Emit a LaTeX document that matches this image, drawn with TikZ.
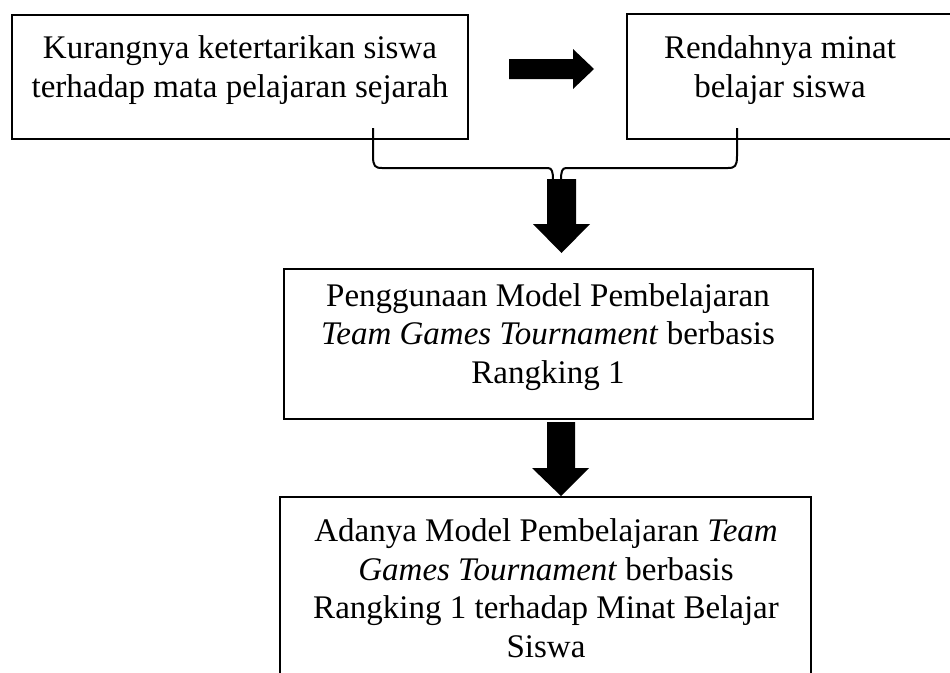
\documentclass[tikz,border=0pt]{standalone}
\usepackage{fontspec}
\setmainfont{Liberation Serif}
\begin{document}
\begin{tikzpicture}[x=1pt,y=-1pt,
  boxline/.style={draw=black,line width=2.2pt},
  txt/.style={align=center,inner sep=0pt,font=\fontsize{33}{38.5}\selectfont},
  fatarrow/.style={fill=black,draw=none}]
\useasboundingbox (0,0) rectangle (950,672);
\begin{scope}
\clip (0,0) rectangle (950,672);
% boxes
\draw[boxline] (12,15) rectangle (468,139);
\draw[boxline] (627,14) rectangle (990,139);
\draw[boxline] (284,269) rectangle (813,419);
\draw[boxline] (280,497) rectangle (811,720);
% texts
\node[txt] (t1) at (240,70) {Kurangnya ketertarikan siswa\\terhadap mata pelajaran sejarah};
\node[txt] (t2) at (780,70) {Rendahnya minat\\belajar siswa};
\node[txt] (t3) at (548,337) {Penggunaan Model Pembelajaran\\\textit{Team Games Tournament} berbasis\\Rangking 1};
\node[txt] (t4) at (546,588) {Adanya Model Pembelajaran \textit{Team}\\\textit{Games Tournament} berbasis\\Rangking 1 terhadap Minat Belajar\\Siswa};
% right arrow
\fill[fatarrow] (509,59) -- (573,59) -- (573,49) -- (594,69) -- (573,89) -- (573,79) -- (509,79) -- cycle;
% brace
\draw[line width=2pt] (373,128) -- (373,156) .. controls (373,166) and (375,168) .. (382,168) -- (548,168) .. controls (552,168) and (553,172) .. (553,180);
\draw[line width=2pt] (737,128) -- (737,156) .. controls (737,166) and (735,168) .. (728,168) -- (566,168) .. controls (562,168) and (561,172) .. (561,180);
% down arrows
\fill[fatarrow] (547,179) -- (576,179) -- (576,224) -- (590,224) -- (561.5,253) -- (533,224) -- (547,224) -- cycle;
\fill[fatarrow] (547,422) -- (575,422) -- (575,468) -- (589,468) -- (561,496) -- (532,468) -- (547,468) -- cycle;
\end{scope}
\end{tikzpicture}
\end{document}
